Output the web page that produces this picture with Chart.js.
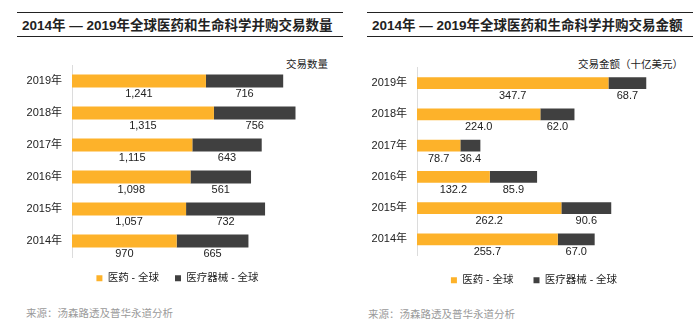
<!DOCTYPE html>
<html lang="zh-CN">
<head>
<meta charset="utf-8">
<script src="https://cdn.jsdelivr.net/npm/chart.js@4.4.1/dist/chart.umd.min.js"></script>
<style>
body { margin:0; width:700px; height:334px; background:#fff; position:relative; overflow:hidden;
	font-family:"Liberation Sans", Arial, "Noto Sans CJK SC", sans-serif; color:#222; }
.titre { position:absolute; top:12px; width:326px; height:25px; box-sizing:border-box;
	border-top:1.5px solid #222; border-bottom:1.5px solid #222;
	font-weight:bold; font-size:13.5px; line-height:22px; padding:1.5px 0 0 5px; white-space:nowrap; }
.unite { position:absolute; top:57.5px; font-size:10.5px; line-height:13px; }
.source { position:absolute; font-size:10.5px; line-height:13px; color:#9a9a9a; }
canvas { position:absolute; top:40px; }
</style>
</head>
<body>

<div class="titre" style="left:17px">2014年 — 2019年全球医药和生命科学并购交易数量</div>
<div class="titre" style="left:367px">2014年 — 2019年全球医药和生命科学并购交易金额</div>
<div class="unite" style="right:372px">交易数量</div>
<div class="unite" style="right:17px">交易金额（十亿美元）</div>

<canvas id="chart_nombre" width="325" height="258" style="left:18px"></canvas>
<canvas id="chart_montant" width="332" height="258" style="left:368px"></canvas>

<div class="source" style="left:26px; top:306.5px">来源：汤森路透及普华永道分析</div>
<div class="source" style="left:368px; top:307.5px">来源：汤森路透及普华永道分析</div>

<script>
var annees = ['2019年', '2018年', '2017年', '2016年', '2015年', '2014年'];
var series_labels = ['医药 - 全球', '医疗器械 - 全球'];

// nombre de transactions
var nombre_pharma = [1241, 1315, 1115, 1098, 1057, 970];
var nombre_dispositifs = [716, 756, 643, 561, 732, 665];

// montant des transactions (milliards USD)
var montant_pharma = [347.7, 224.0, 78.7, 132.2, 262.2, 255.7];
var montant_dispositifs = [68.7, 62.0, 36.4, 85.9, 90.6, 67.0];

var couleurs = ['#FDB22A', '#404040'];
var police = '"Liberation Sans", Arial, "Noto Sans CJK SC", sans-serif';

Chart.defaults.font.family = police;
Chart.defaults.color = '#222';

// valeurs sous chaque segment
var valueLabels = {
	id: 'valueLabels',
	afterDatasetsDraw: function(chart, args, opts) {
		var ctx = chart.ctx;
		ctx.save();
		ctx.font = '11px ' + police;
		ctx.fillStyle = '#222';
		ctx.textAlign = 'center';
		ctx.textBaseline = 'middle';
		chart.data.datasets.forEach(function(ds, i) {
			chart.getDatasetMeta(i).data.forEach(function(bar, j) {
				ctx.fillText(opts.format(ds.data[j]), (bar.x + bar.base) / 2, bar.y + opts.offset);
			});
		});
		ctx.restore();
	}
};

function startChart( id, data_a, data_b, cfg )
{
	return new Chart(document.getElementById(id), {
		type: 'bar',
		data: {
			labels: annees,
			datasets: [
				{ label: series_labels[0], data: data_a, backgroundColor: couleurs[0],
					barPercentage: cfg.bar, categoryPercentage: 1 },
				{ label: series_labels[1], data: data_b, backgroundColor: couleurs[1],
					barPercentage: cfg.bar, categoryPercentage: 1 }
			]
		},
		plugins: [valueLabels],
		options: {
			indexAxis: 'y',
			responsive: false,
			animation: false,
			layout: { padding: { top: cfg.top, right: cfg.right, bottom: cfg.bottom, left: cfg.left } },
			scales: {
				x: { stacked: true, display: false, min: 0, max: cfg.max },
				y: {
					stacked: true,
					grid: { display: false, drawTicks: false },
					border: { display: true, color: '#dcdcdc', width: 1 },
					ticks: { padding: 10, font: { size: 11 }, color: '#222' },
					afterFit: function(axis) { axis.width = cfg.axis; }
				}
			},
			plugins: {
				tooltip: { enabled: false },
				legend: {
					position: 'bottom',
					labels: { boxWidth: 6, boxHeight: 6, padding: cfg.legend, font: { size: 10.5 }, color: '#222' }
				},
				valueLabels: { format: cfg.format, offset: 13 }
			}
		}
	});
}

startChart('chart_nombre', nombre_pharma, nombre_dispositifs, {
	top: 25, right: 12, bottom: 4.5, left: 6, axis: 48, max: 2400, bar: 0.4, legend: 16,
	format: function(v) { return v.toLocaleString('en-US'); }
});

startChart('chart_montant', montant_pharma, montant_dispositifs, {
	top: 27.5, right: 0, bottom: 2.5, left: 0, axis: 49, max: 514, bar: 0.375, legend: 20,
	format: function(v) { return v.toFixed(1); }
});
</script>
</body>
</html>
